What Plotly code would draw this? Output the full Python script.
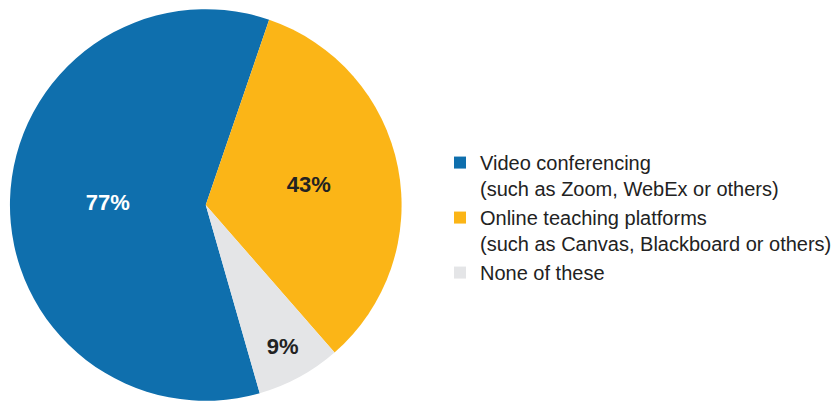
import plotly.graph_objects as go

labels = ["Video conferencing<br>(such as Zoom, WebEx or others)",
          "Online teaching platforms<br>(such as Canvas, Blackboard or others)",
          "None of these"]
values = [77, 43, 9]
texts = ["77%", "43%", "9%"]
colors = ["#0f6fad", "#fbb517", "#e4e5e7"]
text_colors = ["#ffffff", "#222222", "#222222"]

W, H = 837, 403
fig = go.Figure(go.Pie(
    labels=labels,
    values=values,
    text=texts,
    textinfo="text",
    textposition="inside",
    insidetextorientation="horizontal",
    sort=False,
    direction="clockwise",
    rotation=164,
    marker=dict(colors=colors, line=dict(width=0)),
    textfont=dict(family="Liberation Sans, Arial, sans-serif", size=22, color=text_colors),
    insidetextfont=dict(family="Liberation Sans, Arial, sans-serif", size=22, color=text_colors, weight="bold"),
    domain=dict(x=[10 / W, 404 / W], y=[2 / H, 394 / H]),
    hoverinfo="skip",
))

fig.update_layout(
    width=W, height=H,
    margin=dict(l=0, r=0, t=0, b=0),
    paper_bgcolor="white",
    plot_bgcolor="white",
    showlegend=True,
    legend=dict(
        x=0.529, y=0.645, xanchor="left", yanchor="top",
        font=dict(family="Liberation Sans, Arial, sans-serif", size=20, color="#222222"),
        valign="top",
        itemclick=False,
        tracegroupgap=0,
    ),
)

fig.write_html("out.html", config={"displayModeBar": False},
               post_script="document.body.style.margin='0';")
